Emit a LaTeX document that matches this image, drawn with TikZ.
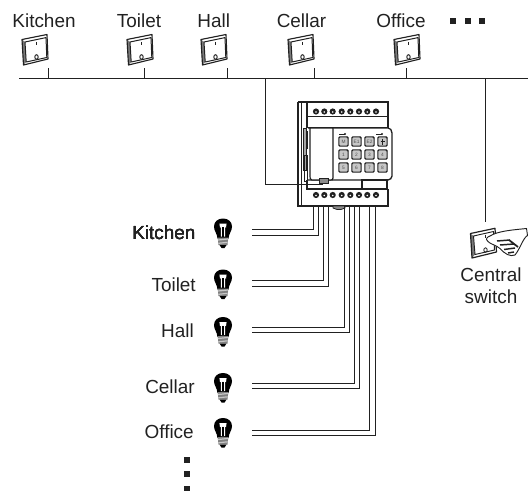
\documentclass[tikz,border=0pt]{standalone}
\usepackage{fontspec}
\setmainfont{Liberation Sans}
\definecolor{ink}{gray}{0.13}
\newcommand{\switchshape}[1]{%
\begin{scope}[shift={(#1)}]
\fill[ink!60] (0,5.5) -- (3,8) -- (4.2,28) -- (1.5,31) -- cycle;
\draw[ink,line width=0.85pt,line join=round] (0,5.5) -- (25,0.5) -- (26,25) -- (1.5,31) -- cycle;
\draw[ink,line width=0.75pt,fill=white,line join=round] (3,8) -- (24,3.6) -- (24.8,23.5) -- (4.2,28) -- cycle;
\draw[ink,line width=0.6pt] (14.2,8) -- (14.2,11.5);
\draw[ink,line width=0.7pt,fill=white] (14.5,23) circle (1.7 and 2.3);
\end{scope}}
\newcommand{\bulbshape}[1]{%
\begin{scope}[shift={(#1)}]
\fill[black] (-5.5,20) .. controls (-6,14.5) and (-9,12.5) .. (-9,8) .. controls (-9,3) and (-5,0) .. (0,0) .. controls (5,0) and (9,3) .. (9,8) .. controls (9,12.5) and (6,14.5) .. (5.5,20) -- cycle;
\fill[white] (-3.6,5) -- (3.6,5) -- (3,9) -- (2.1,8.6) -- (2.1,18) -- (-2.1,18) -- (-2.1,8.6) -- (-3,9) -- cycle;
\draw[black,line width=0.45pt] (-0.7,8.5) -- (-0.7,18) (0.7,8.5) -- (0.7,18);
\fill[black!50] (-5.3,19) -- (5.3,19) -- (4.5,26.5) -- (-4.5,26.5) -- cycle;
\draw[black!22,line width=0.9pt] (-4.8,21.5) -- (4.8,20.5) (-4.6,24.8) -- (4.6,23.8);
\fill[black] (-3.5,26.5) -- (3.5,26.5) -- (1.5,29.5) -- (-1.5,29.5) -- cycle;
\end{scope}}
\tikzset{
  lbl/.style={font=\fontsize{14.2pt}{17pt}\selectfont,text=ink,inner sep=0pt},
  wire/.style={draw=ink,line width=0.75pt},
  dev/.style={draw=ink,line width=0.8pt,fill=white},
  sq/.style={fill=ink,inner sep=0pt,minimum size=4.4pt},
  keycap/.style={draw=ink,fill=black!22,line width=0.85pt,rounded corners=0.8pt,minimum size=7pt,inner sep=0pt,font=\fontsize{3.6pt}{4pt}\selectfont,text=ink!80},
}
\begin{document}
\begin{tikzpicture}[x=0.75pt,y=-0.75pt]
\useasboundingbox (0,0) rectangle (528,492);
% top labels
\foreach \t/\x in {Kitchen/44,Toilet/139,Hall/213.7,Cellar/301.5,Office/401}
  \node[lbl,anchor=base] at (\x,28) {\t};
\foreach \n/\x in {a/453.3,b/467.7,c/482.3} \node[sq] (top\n) at (\x,20.7) {};
% switches
\switchshape{22,34}\switchshape{127,34}\switchshape{201,34}\switchshape{288,34}\switchshape{394,34}
% bus
\coordinate (busL) at (19,78.5); \coordinate (busR) at (528,78.5);
\draw[wire] (busL) -- (busR);
\foreach \n/\x in {a/48,b/144,c/227,d/314.5,e/406.5}{
  \coordinate (st\n) at (\x,68.5); \coordinate (sb\n) at (\x,78.5);
  \draw[wire] (st\n) -- (sb\n);}
% device
\draw[dev,line width=1.1pt] (298,102) -- (298,206) -- (388,206) -- (388,189) (298,102) -- (388,102) -- (388,128);
\draw[ink,line width=0.6pt] (301,103) -- (301,205);
\draw[ink,line width=0.8pt] (307,102) -- (307,128);
\draw[ink,line width=0.8pt] (307,116.5) -- (388,116.5);
\draw[ink,line width=0.9pt] (307,127.5) -- (388,127.5);
\draw[ink,fill=black!35,line width=0.5pt] (303,128) rectangle (306,170);
\draw[ink,fill=black!35,line width=0.5pt] (307,131) rectangle (310.5,148);
\draw[ink,line width=0.7pt] (304,155) rectangle (307,181);
\draw[dev,line width=1pt] (308,128) -- (388,128) .. controls (390,128) and (392,130) .. (392,133) -- (392,176) .. controls (392,178) and (390,180) .. (388,180) -- (308,180);
\draw[dev,line width=0.9pt] (310,128) -- (333,128) -- (333,178) .. controls (333,180) and (332,180) .. (330,180) -- (312,180) .. controls (310,180) and (310,178) .. (310,176) -- cycle;
\draw[ink,fill=black!45,line width=0.6pt] (319,178.5) rectangle (328,183);
\foreach \l/\x/\y in {M/343.5/141.5,E1/356.5/141.5,E2/369.5/141.5,/382.5/141.5,1/343.5/154.5,2/356.5/154.5,3/369.5/154.5,4/382.5/154.5,5/343.5/167.5,6/356.5/167.5,7/369.5/167.5,8/382.5/167.5}{
  \node[keycap] at (\x,\y) {\l};
  \fill[ink] (\x+2.6,\y-4.7) -- (\x+4.7,\y-4.7) -- (\x+4.7,\y-2.6) -- cycle;}
\draw[ink,line width=0.4pt] (382.5,138.5) -- (382.5,144.5) (380.5,141) -- (384.5,141);
\fill[ink] (345,134) circle (1.1) (382,134) circle (1.1);
\draw[ink,line width=0.4pt] (339,134) -- (345,134) (376,134) -- (382,134);
\draw[dev] (362,180) rectangle (387,189.5);
\draw[ink,line width=0.9pt] (307,180) -- (307,189) -- (388,189);
\draw[ink,fill=black!45,line width=0.6pt] (333,206) -- (345,206) -- (345,208) -- (341,209.5) -- (337,209.5) -- (333,208) -- cycle;
\foreach \x in {316,324.3,332.7,341.7,350.3,359,367.3,376}{
  \fill[ink] (\x,111.5) circle (3.1) (\x,195) circle (3.1);
  \fill[white] (\x,112) circle (0.9) (\x,195.5) circle (0.9);}
% device bus link
\coordinate (tap) at (265,78.5); \coordinate (devin) at (323,184.8);
\draw[wire] (tap) |- (devin);
% wires
\foreach \n/\xa/\xb/\ya/\yb in {k/313.3/318.3/229.7/235,t/323.7/328.7/280.7/286,h/344/349.3/327.3/332.3,c/354.3/359.5/383.7/388.7,o/369.7/375/430/435}{
  \coordinate (\n A) at (\xa,205); \coordinate (\n B) at (\xb,205);
  \coordinate (\n C) at (252.3,\ya); \coordinate (\n D) at (252.3,\yb);
  \draw[wire] (\n A) |- (\n C);
  \draw[wire] (\n B) |- (\n D);}
% bulbs and labels
\foreach \y in {218.5,269.5,317,373,418} \bulbshape{223,\y}
\node[lbl,anchor=base east] at (195.7,239) {Kitchen};
\node[lbl,anchor=base east] at (196,291) {Toilet};
\node[lbl,anchor=base east] at (194,337.3) {Hall};
\node[lbl,anchor=base east] at (195,393.3) {Cellar};
\node[lbl,anchor=base east] at (194,438) {Office};
\foreach \n/\y in {a/460,b/474,c/488.5} \node[sq] (dot\n) at (186.7,\y) {};
% central switch
\coordinate (cs) at (485,78.5); \coordinate (csb) at (485,222);
\draw[wire] (cs) -- (csb);
\fill[ink!60] (470.5,233.5) -- (473.5,236) -- (475,254.5) -- (472,258) -- cycle;
\draw[ink,line width=0.9pt,line join=round] (470.5,233.5) -- (495,228.3) -- (496.5,252) -- (472,258) -- cycle;
\draw[ink,line width=0.7pt,fill=white,line join=round] (473.5,236) -- (493.5,231.5) -- (494.5,250) -- (475,254.5) -- cycle;
\draw[ink,line width=0.6pt] (485.5,250) circle (1.7 and 2.2);
\draw[ink,line width=0.6pt] (485,234.5) -- (485,238);
\draw[ink,line width=0.7pt,fill=white] (490,236) .. controls (498,231) and (512,230) .. (526.5,228.5) -- (527.5,235.5) .. controls (523,238) and (520,249) .. (515,255) .. controls (510,257) and (505,254) .. (500,248.5) .. controls (496,245) and (490,244) .. (488,241.5) .. controls (485,239) and (487,237) .. (490,236) -- cycle;
\draw[ink,line width=1.1pt] (497,241) -- (510,240) (500,245) -- (514,244) (504,249.5) -- (515,248) (508,253) -- (514,252);
\draw[ink,line width=1.3pt] (509,240) -- (518,247);
\node[lbl,anchor=base] at (491,281) {Central};
\node[lbl,anchor=base] at (491,303) {switch};
\end{tikzpicture}
\end{document}
